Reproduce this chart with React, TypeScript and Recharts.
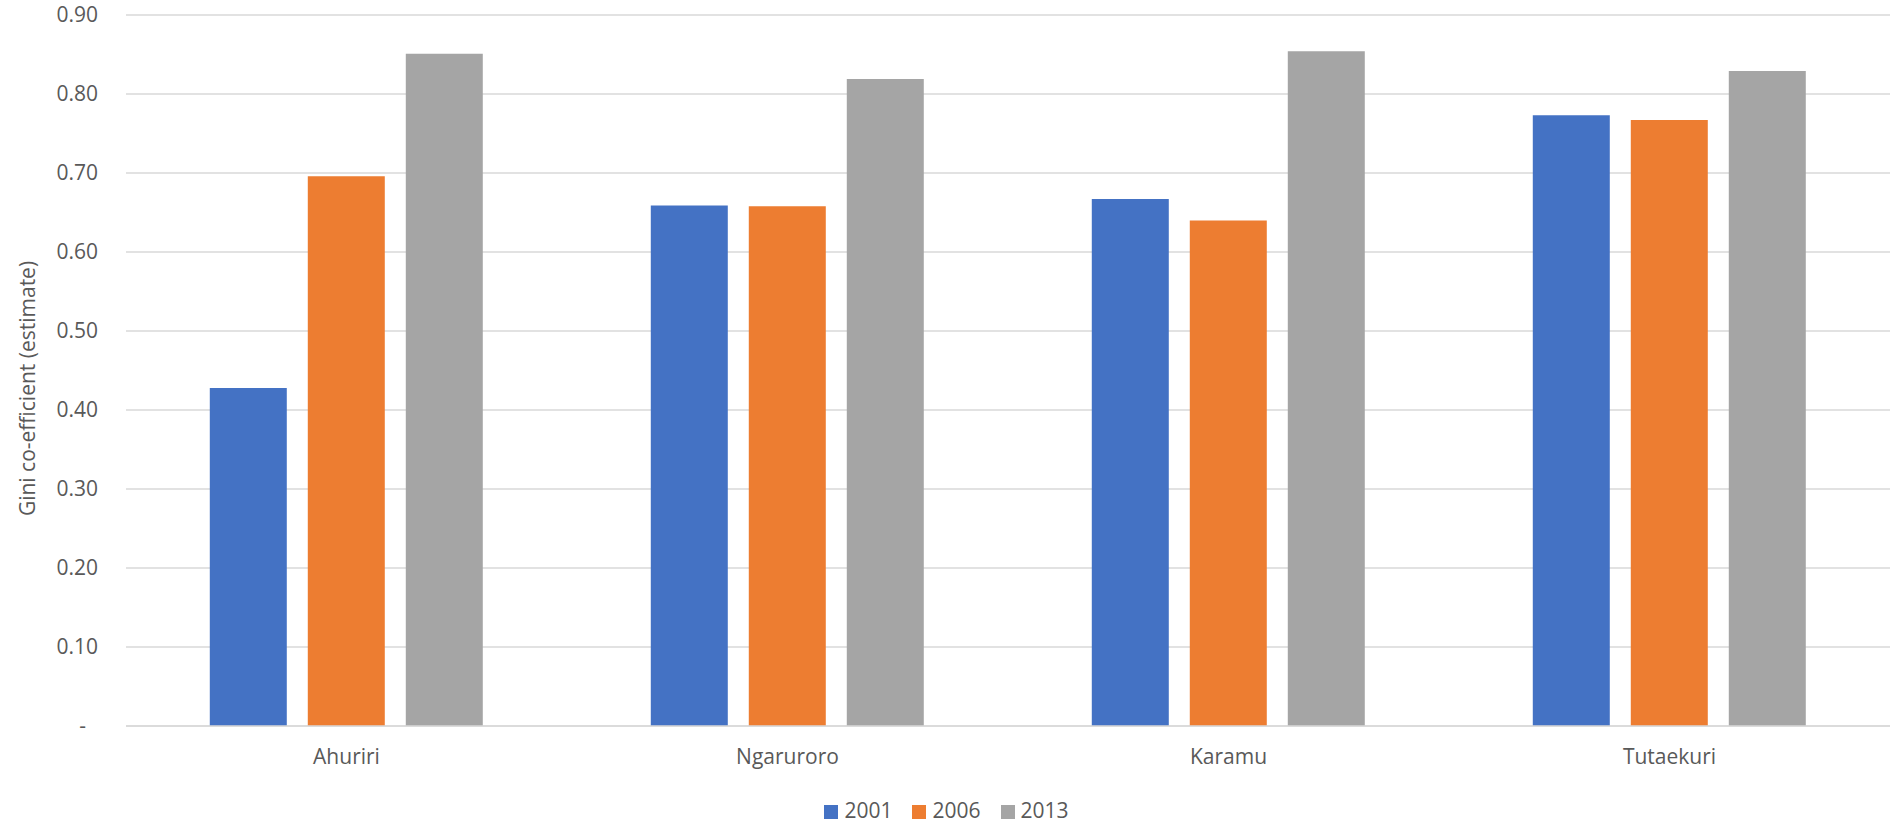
import { BarChart, Bar, XAxis, YAxis, CartesianGrid, Legend, Label } from 'recharts';

const catchments = ['Ahuriri', 'Ngaruroro', 'Karamu', 'Tutaekuri'];
const gini2001 = [0.428, 0.659, 0.667, 0.773];
const gini2006 = [0.696, 0.658, 0.640, 0.767];
const gini2013 = [0.851, 0.819, 0.854, 0.829];
const yTicks = [0, 0.1, 0.2, 0.3, 0.4, 0.5, 0.6, 0.7, 0.8, 0.9];

const FONT = '"Open Sans", sans-serif';
const TEXT = '#595959';

// Excel accounting style: zero shows as a dash
const YTick = ({ x, y, payload }: any) => {
    const v = payload.value as number;
    return (
        <text x={v === 0 ? x - 12 : x} y={y} dy={7} textAnchor="end" fill={TEXT} fontSize={21} fontFamily={FONT}>
            {v === 0 ? '-' : v.toFixed(2)}
        </text>
    );
};

const YTitle = ({ viewBox }: any) => {
    const cx = viewBox.x + 27;
    const cy = viewBox.y + viewBox.height / 2 + 18;
    return (
        <text
            x={cx}
            y={cy}
            transform={`rotate(-90, ${cx}, ${cy})`}
            textAnchor="middle"
            dominantBaseline="central"
            fill={TEXT}
            fontSize={21}
            fontFamily={FONT}
        >
            Gini co-efficient (estimate)
        </text>
    );
};

export default function App() {
    const data = catchments.map((name, i) => ({
        name,
        y2001: gini2001[i],
        y2006: gini2006[i],
        y2013: gini2013[i],
    }));

    return (
        <div style={{ position: 'absolute', left: 0, top: 0, background: '#fff' }}>
            <BarChart
                width={1895}
                height={828}
                data={data}
                margin={{ top: 15, right: 5, left: 0, bottom: 0 }}
                barCategoryGap="19%"
                barGap={21}
            >
                <CartesianGrid vertical={false} stroke="#d9d9d9" strokeWidth={1.5} />
                <XAxis
                    dataKey="name"
                    axisLine={{ stroke: '#d9d9d9', strokeWidth: 1.5 }}
                    tickLine={false}
                    tickMargin={17}
                    height={62}
                    tick={{ fill: TEXT, fontSize: 21, fontFamily: FONT }}
                />
                <YAxis
                    width={126}
                    domain={[0, 0.9]}
                    ticks={yTicks}
                    axisLine={false}
                    tickLine={false}
                    tickMargin={22}
                    tick={<YTick />}
                >
                    <Label content={<YTitle />} />
                </YAxis>
                <Legend
                    verticalAlign="bottom"
                    iconType="square"
                    iconSize={14}
                    wrapperStyle={{ fontSize: 21, fontFamily: FONT, color: TEXT, height: 40, top: 796, left: 9, width: 1895 }}
                    formatter={(value: string) => (
                        <span style={{ color: TEXT, marginLeft: 2, marginRight: 10 }}>{value}</span>
                    )}
                />
                <Bar dataKey="y2001" name="2001" fill="#4472C4" isAnimationActive={false} />
                <Bar dataKey="y2006" name="2006" fill="#ED7D31" isAnimationActive={false} />
                <Bar dataKey="y2013" name="2013" fill="#A5A5A5" isAnimationActive={false} />
            </BarChart>
        </div>
    );
}
